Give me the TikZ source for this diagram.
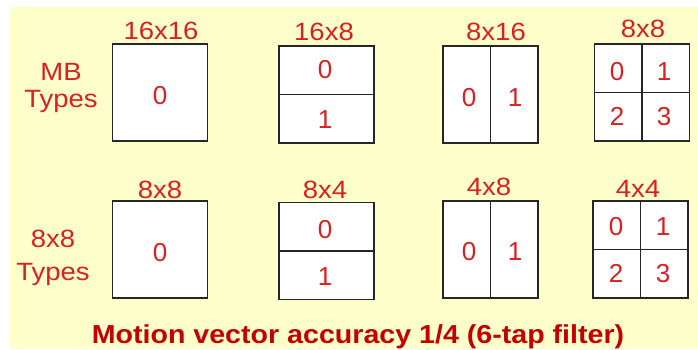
\documentclass[tikz,border=0pt]{standalone}
\usepackage{fontspec}
\setmainfont{Liberation Sans}
\definecolor{paleyellow}{RGB}{255,255,204}
\definecolor{typered}{RGB}{218,32,32}
\definecolor{notered}{RGB}{196,0,0}

\begin{document}
\begin{tikzpicture}[x=1pt, y=-1pt,
    blk/.style={draw=black!85, fill=white, line width=1.6pt, minimum width=95pt, minimum height=97pt, inner sep=0pt},
    part/.style={draw=black!85, line width=1.6pt},
    lbl/.style={text=typered, font=\fontsize{25}{30}\selectfont, anchor=base, inner sep=0pt, xscale=1.1},
    num/.style={text=typered, font=\fontsize{26}{30}\selectfont, anchor=base, inner sep=0pt}]
    \useasboundingbox (0,0) rectangle (698,349);
    \fill[white] (0,0) rectangle (698,349);
    \fill[paleyellow] (10,7) rectangle (698,349);

    \node[lbl] (mb) at (61,80) {MB};
    \node[lbl] (mbtypes) at (61,107) {Types};
    \node[lbl] (sub) at (53,247) {8x8};
    \node[lbl] (subtypes) at (53,280) {Types};

    \node[blk] (mbA) at (160,92.5) {};
    \node[blk] (mbB) at (326.5,94.5) {};
    \node[blk] (mbC) at (490.5,94.5) {};
    \node[blk] (mbD) at (642,92.5) {};
    \draw[part] (mbB.west) -- (mbB.east);
    \draw[part] (mbC.north) -- (mbC.south);
    \draw[part] (mbD.north) -- (mbD.south);
    \draw[part] (mbD.west) -- (mbD.east);

    \node[lbl] (mbAname) at (161,39) {16x16};
    \node[lbl] (mbBname) at (324,40) {16x8};
    \node[lbl] (mbCname) at (496,40) {8x16};
    \node[lbl] (mbDname) at (643,37) {8x8};

    \node[num] (mbA0) at (160,104) {0};
    \node[num] (mbB0) at (325,78) {0};
    \node[num] (mbB1) at (325,128) {1};
    \node[num] (mbC0) at (469,106) {0};
    \node[num] (mbC1) at (515,106) {1};
    \node[num] (mbD0) at (617,80) {0};
    \node[num] (mbD1) at (664,80) {1};
    \node[num] (mbD2) at (617,125) {2};
    \node[num] (mbD3) at (664,125) {3};

    \node[blk] (subA) at (160,249.5) {};
    \node[blk] (subB) at (326.5,251) {};
    \node[blk] (subC) at (490.5,249.5) {};
    \node[blk] (subD) at (640.5,249.5) {};
    \draw[part] (subB.west) -- (subB.east);
    \draw[part] (subC.north) -- (subC.south);
    \draw[part] (subD.north) -- (subD.south);
    \draw[part] (subD.west) -- (subD.east);

    \node[lbl] (subAname) at (160,198) {8x8};
    \node[lbl] (subBname) at (325,198) {8x4};
    \node[lbl] (subCname) at (489,195) {4x8};
    \node[lbl] (subDname) at (638,197) {4x4};

    \node[num] (subA0) at (160,261) {0};
    \node[num] (subB0) at (325,238) {0};
    \node[num] (subB1) at (325,285) {1};
    \node[num] (subC0) at (469,260) {0};
    \node[num] (subC1) at (515,260) {1};
    \node[num] (subD0) at (616,235) {0};
    \node[num] (subD1) at (663,235) {1};
    \node[num] (subD2) at (616,282) {2};
    \node[num] (subD3) at (663,282) {3};

    \node[text=notered, font=\fontsize{26}{30}\selectfont\bfseries, anchor=base, inner sep=0pt, xscale=1.1] (accuracy) at (358,343) {Motion vector accuracy 1/4 (6-tap filter)};
\end{tikzpicture}
\end{document}
